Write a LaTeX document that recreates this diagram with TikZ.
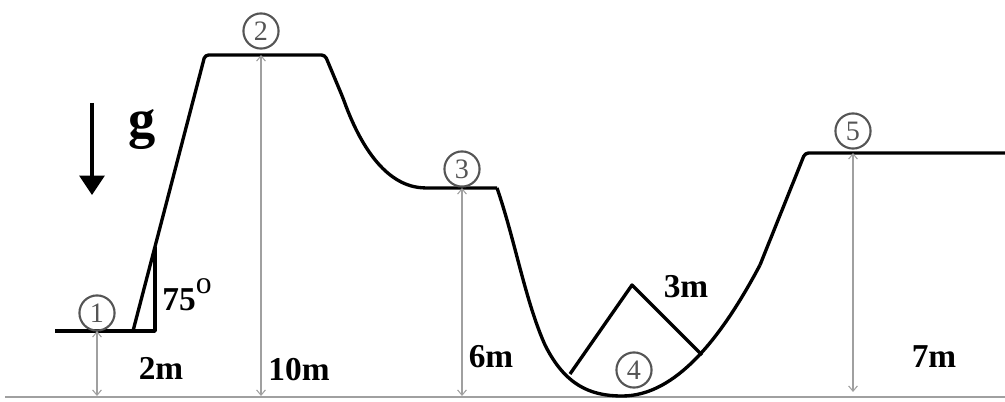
\documentclass[tikz,border=0pt]{standalone}
\usepackage{fontspec}
\setmainfont{Liberation Serif}
\usetikzlibrary{arrows.meta}
\definecolor{dimcolor}{RGB}{160,160,160}
\definecolor{markcolor}{RGB}{85,85,85}

\begin{document}
\begin{tikzpicture}[
    x=0.02cm, y=-0.02cm,
    track/.style={line width=1.9pt, line join=round},
    ground/.style={draw=dimcolor, line width=1.1pt},
    pointmark/.style={circle, draw=markcolor, line width=1.2pt, text=markcolor, minimum size=20pt, inner sep=0pt, font=\fontsize{16}{16}\selectfont},
    dimline/.style={{Straight Barb[length=3pt,width=5pt]}-{Straight Barb[length=3pt,width=5pt]}, draw=dimcolor, line width=0.6pt},
    lbl/.style={font=\fontsize{19}{19}\selectfont\bfseries}
]
\useasboundingbox (0,0) rectangle (1005,402);

% ground line
\coordinate (gl) at (5,397);
\coordinate (gr) at (1005,397);
\draw[ground] (gl) -- (gr);

% track
\draw[track] (55,331) -- (155,331) -- (155,247);
\draw[track, rounded corners=2pt] (133,331) -- (205,55) -- (325,55) -- (343,98)
    .. controls (360,145) and (385,185) .. (425,188) -- (497,188);
\draw[track] (497,188) .. controls (515,240) and (525,300) .. (545,345)
    .. controls (565,385) and (590,396) .. (622,396)
    .. controls (670,396) and (715,350) .. (760,265);
\draw[track, rounded corners=2pt] (760,265) -- (805,153) -- (1005,153);

% block in the valley
\draw[track] (570,374) -- (632,285) -- (702,355);

% gravity
\coordinate (gtop) at (92,103);
\coordinate (gbot) at (92,195);
\draw[line width=2.2pt, -{Triangle[width=14pt,length=11pt]}] (gtop) -- (gbot);
\node[font=\fontsize{31}{31}\selectfont\bfseries] (g) at (142,130) {g};

% 1. point 1
\node[pointmark] (p1) at (97,313) {1};
\coordinate (h1a) at (97,331);
\coordinate (h1b) at (97,396);
\draw[dimline] (h1a) -- (h1b);
\node[lbl] (l1) at (161,368) {2m};
\node[lbl] (ang) at (187,295) {75\raisebox{0.5em}{\fontsize{18}{18}\selectfont\mdseries o}};

% 2. point 2
\node[pointmark] (p2) at (261,31) {2};
\coordinate (h2a) at (261,55);
\coordinate (h2b) at (261,396);
\draw[dimline] (h2a) -- (h2b);
\node[lbl] (l2) at (299,370) {10m};

% 3. point 3
\node[pointmark] (p3) at (462,169) {3};
\coordinate (h3a) at (462,188);
\coordinate (h3b) at (462,396);
\draw[dimline] (h3a) -- (h3b);
\node[lbl] (l3) at (491,357) {6m};

% 4. point 4
\node[pointmark] (p4) at (634,370) {4};
\node[lbl] (l4) at (686,287) {3m};

% 5. point 5
\node[pointmark] (p5) at (853,131) {5};
\coordinate (h5a) at (853,153);
\coordinate (h5b) at (853,392);
\draw[dimline] (h5a) -- (h5b);
\node[lbl] (l5) at (934,357) {7m};

\end{tikzpicture}
\end{document}
